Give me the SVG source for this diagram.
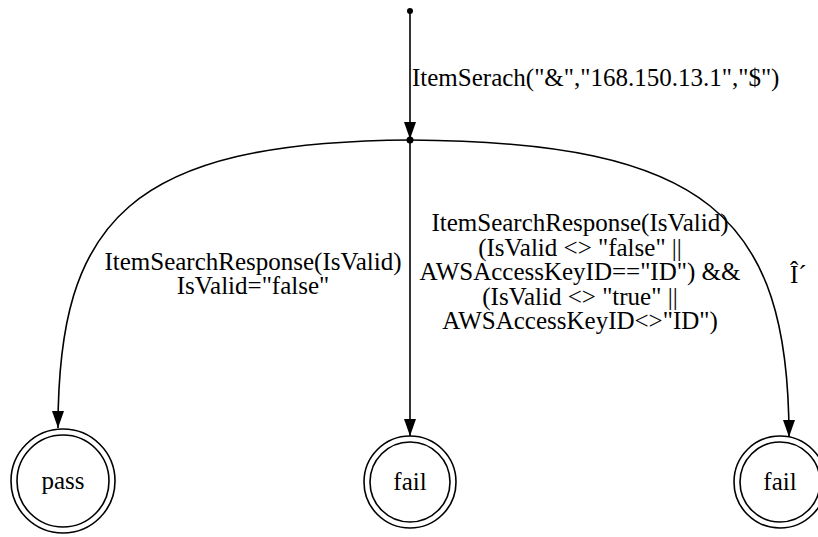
<svg xmlns="http://www.w3.org/2000/svg" width="818" height="537" viewBox="0 0 818 537">
<defs>
<style>
text{font-family:"Liberation Serif","Times New Roman",serif;font-size:25px;fill:#000}
.e{fill:none;stroke:#000;stroke-width:1.6}
.n{fill:none;stroke:#000;stroke-width:1.6}
</style>
<marker id="arr" viewBox="0 0 17 12" refX="17" refY="6" markerWidth="17" markerHeight="12" markerUnits="userSpaceOnUse" orient="auto">
<path d="M0,0 L17,6 L0,12 Z" fill="#000"/>
</marker>
</defs>
<rect width="818" height="537" fill="#fff"/>
<g id="connectors">
<path class="e" d="M410,11 L410,139" marker-end="url(#arr)"/>
<path class="e" d="M410,140 C130,142 58,220 58,428" marker-end="url(#arr)"/>
<path class="e" d="M410,140 L410,436" marker-end="url(#arr)"/>
<path class="e" d="M410,140 C705,142 789,215 789,437" marker-end="url(#arr)"/>
<text x="412" y="86">ItemSerach("&amp;","168.150.13.1","$")</text>
<text x="253" y="269.5" text-anchor="middle">ItemSearchResponse(IsValid)</text>
<text x="253" y="294" text-anchor="middle">IsValid="false"</text>
<text x="580" y="231" text-anchor="middle">ItemSearchResponse(IsValid)</text>
<text x="580" y="255.5" text-anchor="middle">(IsValid &lt;&gt; "false" ||</text>
<text x="580" y="280" text-anchor="middle">AWSAccessKeyID=="ID") &amp;&amp;</text>
<text x="580" y="304.5" text-anchor="middle">(IsValid &lt;&gt; "true" ||</text>
<text x="580" y="329" text-anchor="middle">AWSAccessKeyID&lt;&gt;"ID")</text>
<text x="790" y="283">Î´</text>
</g>
<g id="start"><circle cx="410" cy="11" r="3" fill="#000"/></g>
<g id="branch"><circle cx="410" cy="140" r="3.5" fill="#000"/></g>
<g id="pass">
<circle class="n" cx="63" cy="481" r="52"/>
<circle class="n" cx="63" cy="481" r="46"/>
<text x="63" y="489" text-anchor="middle">pass</text>
</g>
<g id="fail1">
<circle class="n" cx="410" cy="482" r="46"/>
<circle class="n" cx="410" cy="482" r="40"/>
<text x="410" y="490" text-anchor="middle">fail</text>
</g>
<g id="fail2">
<circle class="n" cx="780" cy="482" r="46"/>
<circle class="n" cx="780" cy="482" r="40"/>
<text x="780" y="490" text-anchor="middle">fail</text>
</g>
</svg>
